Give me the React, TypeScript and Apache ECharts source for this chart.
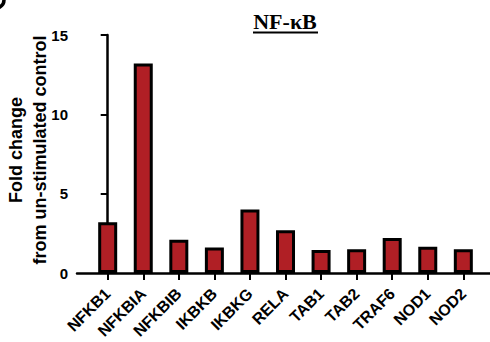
import React, { useEffect, useRef } from "react";
import * as echarts from "echarts";

const categories = ["NFKB1", "NFKBIA", "NFKBIB", "IKBKB", "IKBKG", "RELA", "TAB1", "TAB2", "TRAF6", "NOD1", "NOD2"];
const foldChange = [3.2, 13.2, 2.1, 1.6, 4.0, 2.7, 1.45, 1.5, 2.2, 1.65, 1.5];
const yTicks = [0, 5, 10, 15];
const chartTitle = "NF-κB";
const yTitleLines = ["Fold change", "from un-stimulated control"];

export default function App() {
  const ref = useRef<HTMLDivElement>(null);
  useEffect(() => {
    document.body.style.margin = "0";
    const chart = echarts.init(ref.current!, null, { renderer: "svg" });
    const idx = categories.map((_, i) => i);
    const sans = "'Liberation Sans', Arial, sans-serif";
    chart.setOption({
      animation: false,
      backgroundColor: "#ffffff",
      grid: { left: 77, right: 0, top: 35, bottom: 69, containLabel: false, outerBoundsMode: "none" },
      xAxis: {
        type: "value",
        min: -0.863,
        max: 10.75,
        splitLine: { show: false },
        axisLine: { show: true, onZero: false, lineStyle: { color: "#000", width: 2.5 } },
        axisTick: { show: true, customValues: idx, length: 7, lineStyle: { color: "#000", width: 2 } },
        axisLabel: {
          customValues: idx,
          formatter: (v: number) => categories[Math.round(v)] ?? "",
          rotate: 45,
          margin: 18,
          color: "#000",
          fontFamily: sans,
          fontWeight: "bold",
          fontSize: 16,
          hideOverlap: false,
        },
      },
      yAxis: {
        type: "value",
        min: yTicks[0],
        max: yTicks[yTicks.length - 1],
        interval: 5,
        splitLine: { show: false },
        axisLine: { show: true, lineStyle: { color: "#000", width: 2.5 } },
        axisTick: { show: true, length: 7, lineStyle: { color: "#000", width: 2 } },
        axisLabel: {
          margin: 9,
          color: "#000",
          fontFamily: sans,
          fontWeight: "bold",
          fontSize: 15,
        },
      },
      series: [
        {
          type: "bar",
          data: foldChange.map((v, i) => [i, v]),
          barWidth: 19,
          itemStyle: { color: "#b01f25", borderColor: "#000", borderWidth: 3 },
        },
      ],
      graphic: [
        {
          type: "text",
          x: 285,
          y: 10,
          style: {
            text: chartTitle,
            textAlign: "center",
            textVerticalAlign: "top",
            fill: "#000",
            font: "bold 22px 'Liberation Serif', 'Times New Roman', serif",
          },
        },
        {
          type: "line",
          shape: { x1: 253, y1: 32.5, x2: 318, y2: 32.5 },
          style: { stroke: "#000", lineWidth: 2 },
        },
        ...yTitleLines.map((t, i) => ({
          type: "text",
          x: 15.5 + i * 24,
          y: 150,
          rotation: Math.PI / 2,
          style: {
            text: t,
            textAlign: "center",
            textVerticalAlign: "middle",
            fill: "#000",
            font: `bold 18px ${sans}`,
          },
        })),
        {
          type: "circle",
          shape: { cx: -4, cy: 0, r: 8 },
          style: { fill: "none", stroke: "#000", lineWidth: 3.5 },
        },
      ],
    });
    return () => chart.dispose();
  }, []);
  return <div ref={ref} style={{ width: 490, height: 342 }} />;
}
